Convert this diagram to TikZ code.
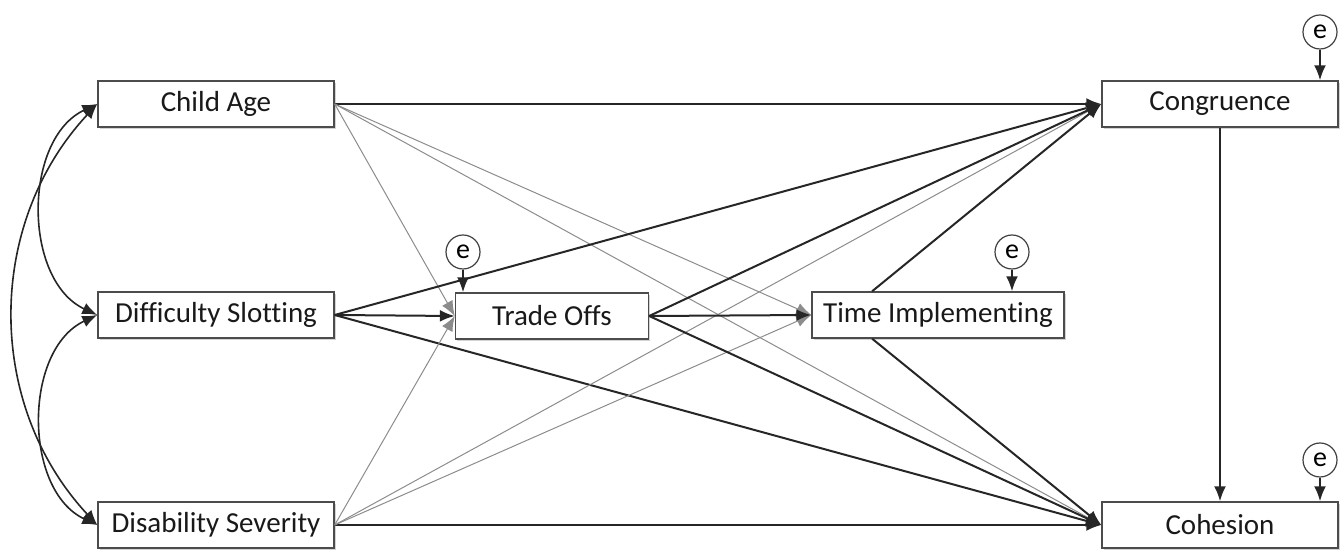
\documentclass[tikz,border=0pt]{standalone}
\usepackage{fontspec}
\setmainfont{Carlito}[Ligatures=NoCommon]
\usetikzlibrary{arrows.meta,shadows,calc}

\begin{document}
\begin{tikzpicture}[x=0.5pt, y=-0.5pt,
        box/.style={rectangle, draw=black!70, line width=0.7pt, fill=white, inner sep=2pt, minimum width=118pt, minimum height=23pt, font=\fontsize{14.5}{16}\selectfont, text=black!90, drop shadow={shadow xshift=0.8pt, shadow yshift=-0.8pt, opacity=0.35}},
        err/.style={circle, draw=black!75, line width=0.6pt, fill=white, minimum size=17pt, inner sep=0pt, font=\fontsize{14}{16}\selectfont},
        strong/.style={draw, -{Latex[length=7.5pt,width=6pt]}, line width=1pt, black!85},
        weak/.style={draw, -{Latex[length=7.5pt,width=6pt]}, line width=0.5pt, black!45},
        cov/.style={draw, {Latex[length=7.5pt,width=6pt]}-{Latex[length=7.5pt,width=6pt]}, line width=0.8pt, black!85}
    ]
        \useasboundingbox (0,0) rectangle (1341,550);

        % Nodes
        \node [box] (age) at (216,104) {Child Age};
        \node [box] (diff) at (216,315) {Difficulty Slotting};
        \node [box] (dis) at (216,525) {Disability Severity};
        \node [box, minimum width=96.5pt] (trade) at (552,316) {Trade Offs};
        \node [box, minimum width=126pt] (timp) at (938,315) {Time Implementing};
        \node [box] (cong) at (1220,104) {Congruence};
        \node [box] (coh) at (1220,525) {Cohesion};

        \node [err] (etrade) at (463,252) {e};
        \node [err] (etimp) at (1012,252) {e};
        \node [err] (econg) at (1320,32) {e};
        \node [err] (ecoh) at (1320,460) {e};

        \coordinate (timptop) at ($(timp.north west)!0.24!(timp.north east)$);
        \coordinate (timpbot) at ($(timp.south west)!0.24!(timp.south east)$);

        % Covariances
        \path [cov] (age.west) to[bend right=65] (diff.west);
        \path [cov] (diff.west) to[bend right=65] (dis.west);
        \path [cov] (age.west) to[bend right=43] (dis.west);

        % Paths from Child Age
        \path [strong] (age.east) -- (cong.west);
        \path [weak] (age.east) -- (trade.west);
        \path [weak] (age.east) -- (timp.west);
        \path [weak] (age.east) -- (coh.west);

        % Paths from Difficulty Slotting
        \path [strong] (diff.east) -- (cong.west);
        \path [strong] (diff.east) -- (trade.west);
        \path [strong] (diff.east) -- (coh.west);

        % Paths from Disability Severity
        \path [strong] (dis.east) -- (coh.west);
        \path [weak] (dis.east) -- (trade.west);
        \path [weak] (dis.east) -- (timp.west);
        \path [weak] (dis.east) -- (cong.west);

        % Mediators
        \path [strong] (trade.east) -- (cong.west);
        \path [strong] (trade.east) -- (timp.west);
        \path [strong] (trade.east) -- (coh.west);
        \path [strong] (timptop) -- (cong.west);
        \path [strong] (timpbot) -- (coh.west);
        \path [strong] (cong) -- (coh);

        % Error terms
        \path [strong] (etrade) -- (etrade |- trade.north);
        \path [strong] (etimp) -- (etimp |- timp.north);
        \path [strong] (econg) -- (econg |- cong.north);
        \path [strong] (ecoh) -- (ecoh |- coh.north);

    \end{tikzpicture}
\end{document}
